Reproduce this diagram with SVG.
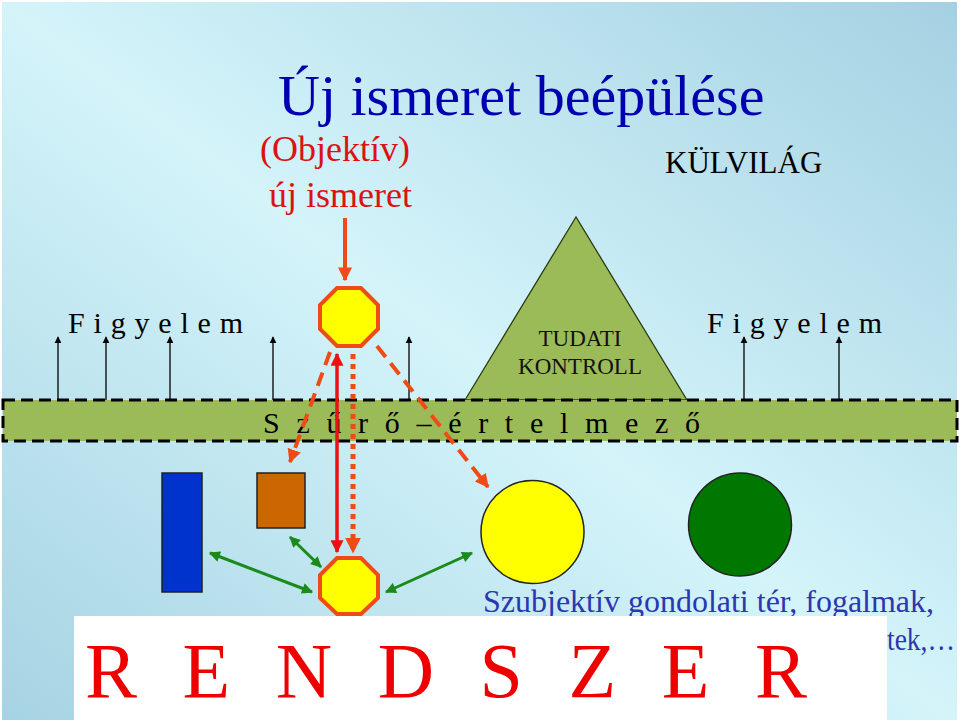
<svg xmlns="http://www.w3.org/2000/svg" width="960" height="720" viewBox="0 0 960 720">
<defs>
<linearGradient id="bg" x1="1" y1="0" x2="0" y2="1">
<stop offset="0" stop-color="#a4d1e2"/>
<stop offset="0.5" stop-color="#d4f4fa"/>
<stop offset="1" stop-color="#a6d3e3"/>
</linearGradient>
<marker id="aBlack" viewBox="0 0 10 10" refX="9" refY="5" markerWidth="7" markerHeight="9" markerUnits="userSpaceOnUse" orient="auto"><path d="M0,0 L10,5 L0,10 z" fill="#000"/></marker>
<marker id="aOrange" viewBox="0 0 10 10" refX="9" refY="5" markerWidth="14" markerHeight="14" markerUnits="userSpaceOnUse" orient="auto"><path d="M0,0 L10,5 L0,10 z" fill="#f04a16"/></marker>
<marker id="aOrangeBig" viewBox="0 0 10 10" refX="9" refY="5" markerWidth="16" markerHeight="18" markerUnits="userSpaceOnUse" orient="auto"><path d="M0,0 L10,5 L0,10 z" fill="#f04a16"/></marker>
<marker id="aRed" viewBox="0 0 10 10" refX="9" refY="5" markerWidth="16" markerHeight="13" markerUnits="userSpaceOnUse" orient="auto-start-reverse"><path d="M0,0 L10,5 L0,10 z" fill="#ee1111"/></marker>
<marker id="aGreen" viewBox="0 0 10 10" refX="9" refY="5" markerWidth="12" markerHeight="11" markerUnits="userSpaceOnUse" orient="auto-start-reverse"><path d="M0,0 L10,5 L0,10 z" fill="#1a8a1a"/></marker>
</defs>
<style>
.serif{font-family:"Liberation Serif","Times New Roman",serif}
.oct{fill:#ffff00;stroke:#f04a16;stroke-width:4}
.vk{stroke:#000;stroke-width:1.3;fill:none;marker-end:url(#aBlack)}
.dash{stroke:#f04a16;stroke-width:4;stroke-dasharray:14 8;fill:none;marker-end:url(#aOrange)}
.grn{stroke:#1a8a1a;stroke-width:3;fill:none;marker-start:url(#aGreen);marker-end:url(#aGreen)}
.shape{stroke:#222;stroke-width:1.5}
</style>
<rect x="0" y="0" width="960" height="720" fill="#ffffff"/>
<rect x="2" y="2" width="955" height="718" fill="url(#bg)"/>

<text class="serif" x="278" y="115" font-size="58" fill="#0000b3">Új ismeret beépülése</text>
<text class="serif" x="260" y="161" font-size="36" fill="#dd1111">(Objektív)</text>
<text class="serif" x="269" y="207" font-size="36" fill="#dd1111">új ismeret</text>
<text class="serif" x="665" y="173" font-size="31" fill="#000">KÜLVILÁG</text>

<g id="triangle">
<polygon points="576,217 465,400 687,400" fill="#9bbb59" stroke="#2a3a10" stroke-width="1.3"/>
<text class="serif" x="580" y="346" font-size="23" fill="#111" text-anchor="middle">TUDATI</text>
<text class="serif" x="580" y="374" font-size="23" fill="#111" text-anchor="middle">KONTROLL</text>
</g>

<g id="figyelem-left">
<text class="serif" x="68" y="333" font-size="30" fill="#000" textLength="175" lengthAdjust="spacing">F i g y e l e m</text>
</g>
<g id="figyelem-right">
<text class="serif" x="707" y="333" font-size="30" fill="#000" textLength="175" lengthAdjust="spacing">F i g y e l e m</text>
</g>

<g id="band">
<rect x="3" y="400" width="954" height="41" fill="#9bbb59" stroke="#000" stroke-width="3" stroke-dasharray="12 6"/>
<text class="serif" x="263" y="433" font-size="30" fill="#000" textLength="437" lengthAdjust="spacing">S z ű r ő – é r t e l m e z ő</text>
</g>

<g id="connectors">
<line class="vk" x1="58" y1="400" x2="58" y2="337"/>
<line class="vk" x1="106" y1="400" x2="106" y2="337"/>
<line class="vk" x1="170" y1="400" x2="170" y2="337"/>
<line class="vk" x1="273" y1="400" x2="273" y2="337"/>
<line class="vk" x1="409" y1="400" x2="409" y2="337"/>
<line class="vk" x1="744" y1="400" x2="744" y2="337"/>
<line class="vk" x1="839" y1="400" x2="839" y2="337"/>

<line x1="345" y1="218" x2="345" y2="280" stroke="#f04a16" stroke-width="4" marker-end="url(#aOrange)"/>
<line x1="337" y1="354" x2="337" y2="552" stroke="#ee1111" stroke-width="3.5" marker-start="url(#aRed)" marker-end="url(#aRed)"/>
<line x1="353" y1="354" x2="353" y2="552" stroke="#f04a16" stroke-width="5" stroke-dasharray="5 5" marker-end="url(#aOrangeBig)"/>
<line class="dash" x1="330" y1="352" x2="290" y2="462"/>
<line class="dash" x1="377" y1="346" x2="488" y2="487"/>

<line class="grn" x1="210" y1="553" x2="312" y2="592"/>
<line class="grn" x1="290" y1="537" x2="321" y2="567"/>
<line class="grn" x1="386" y1="592" x2="472" y2="553"/>
</g>

<g id="octagon-top">
<polygon class="oct" points="337,288 361,288 378,305 378,329 361,346 337,346 320,329 320,305"/>
</g>
<g id="octagon-bottom">
<polygon class="oct" points="337,558 361,558 378,575 378,598 361,614 337,614 320,598 320,575"/>
</g>
<g id="blue-rect">
<rect class="shape" x="162" y="473" width="40" height="119" fill="#0033cc"/>
</g>
<g id="brown-square">
<rect class="shape" x="257" y="473" width="48" height="55" fill="#cc6600"/>
</g>
<g id="yellow-circle">
<circle class="shape" cx="532.5" cy="532" r="51.5" fill="#ffff00"/>
</g>
<g id="green-circle">
<circle class="shape" cx="740" cy="524.5" r="51.5" fill="#007700"/>
</g>

<text class="serif" x="483" y="612" font-size="32" fill="#2a37b0">Szubjektív gondolati tér, fogalmak,</text>
<text class="serif" x="887" y="650" font-size="32" fill="#2a37b0" textLength="68" lengthAdjust="spacingAndGlyphs">tek,…</text>

<g id="rendszer">
<rect x="74" y="616" width="813" height="104" fill="#ffffff"/>
<text class="serif" x="85" y="697" font-size="78" fill="#ee0000" textLength="722" lengthAdjust="spacing">R E N D S Z E R</text>
</g>
</svg>
